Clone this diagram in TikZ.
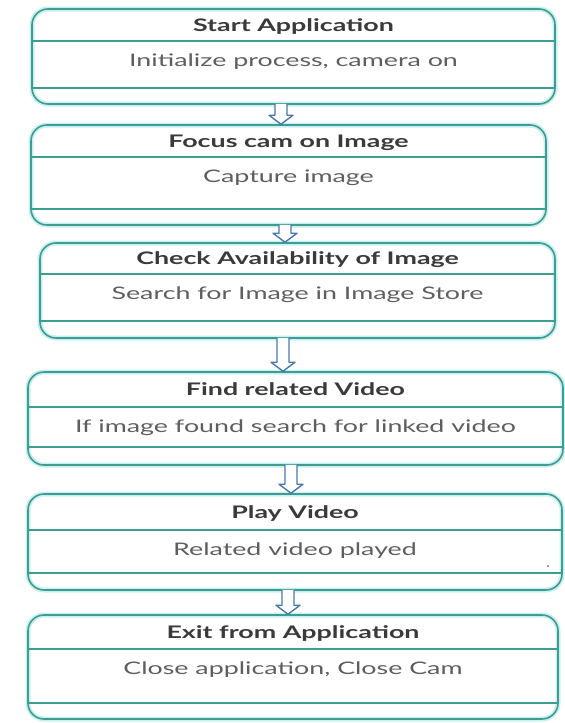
\documentclass[tikz,border=0pt]{standalone}
\usepackage{fontspec}
\setmainfont{Lato}[FakeStretch=1.55]
\usetikzlibrary{fit,calc}
\definecolor{boxteal}{HTML}{3F9C90}
\definecolor{glow}{HTML}{C9F0F0}
\definecolor{arrblue}{HTML}{4A78A8}
\definecolor{titlegray}{HTML}{3A3A3A}
\definecolor{bodygray}{HTML}{5E5E5E}
\tikzset{
  boxshape/.style={draw=boxteal, line width=1.6pt, rounded corners=16pt, inner sep=0pt,
    preaction={draw=glow, line width=5pt}},
  sepline/.style={draw=boxteal, line width=1.4pt},
  titletext/.style={anchor=base, inner sep=0pt, text=titlegray, font=\fontsize{17.3}{20}\selectfont\bfseries},
  bodytext/.style={anchor=base, inner sep=0pt, text=bodygray, font=\fontsize{17.3}{20}\selectfont},
  hollowarrow/.style={draw=arrblue, line width=1.4pt, fill=white, line join=round}
}
\newcommand\flowbox[9]{%
  \pgfmathsetmacro\cx{(#2+#4)/2}%
  \pgfmathsetmacro\ty{(#3+#6)/2+6}%
  \pgfmathsetmacro\by{#6+25}%
  \node[boxshape, fit={(#2,#3) (#4,#5)}] (#1) {};
  \coordinate (#1H) at (0,#6);
  \coordinate (#1F) at (0,#7);
  \draw[sepline] (#1.west |- #1H) -- (#1.east |- #1H);
  \draw[sepline] (#1.west |- #1F) -- (#1.east |- #1F);
  \node[titletext] (#1t) at (\cx,\ty) {#8};
  \node[bodytext] (#1b) at (\cx,\by) {#9};
}
\newcommand\flowarrow[3]{%
  \draw[hollowarrow] let \p1=(#1.south), \p2=(#2.north), \p3=(#3,0) in
    (\x3-6pt,\y1+1pt) -- (\x3-6pt,\y2+9pt) -- (\x3-12pt,\y2+9pt) -- (\x3,\y2)
    -- (\x3+12pt,\y2+9pt) -- (\x3+6pt,\y2+9pt) -- (\x3+6pt,\y1+1pt);
}
\begin{document}
\begin{tikzpicture}[x=1pt,y=-1pt]
\useasboundingbox (0,0) rectangle (565,723);
\fill[white] (0,0) rectangle (565,723);
\flowbox{b1}{32}{9}{555}{104}{41}{88}{Start Application}{Initialize process, camera on}
\flowbox{b2}{31}{125}{546}{225}{157}{209}{Focus cam on Image}{Capture image}
\flowbox{b3}{40}{243}{555}{338}{274}{321}{Check Availability of Image}{Search for Image in Image Store}
\flowbox{b4}{28}{372}{563}{465}{407}{447}{Find related Video}{If image found search for linked video}
\flowbox{b5}{28}{494}{562}{590}{530}{573}{Play Video}{Related video played}
\flowbox{b6}{28}{615}{558}{719}{649}{703}{Exit from Application}{Close application, Close Cam}
\node[circle, fill=bodygray, inner sep=0.7pt] (dot) at (548,566) {};
\flowarrow{b1}{b2}{281}
\flowarrow{b2}{b3}{285}
\flowarrow{b3}{b4}{283}
\flowarrow{b4}{b5}{291}
\flowarrow{b5}{b6}{288}
\end{tikzpicture}
\end{document}
